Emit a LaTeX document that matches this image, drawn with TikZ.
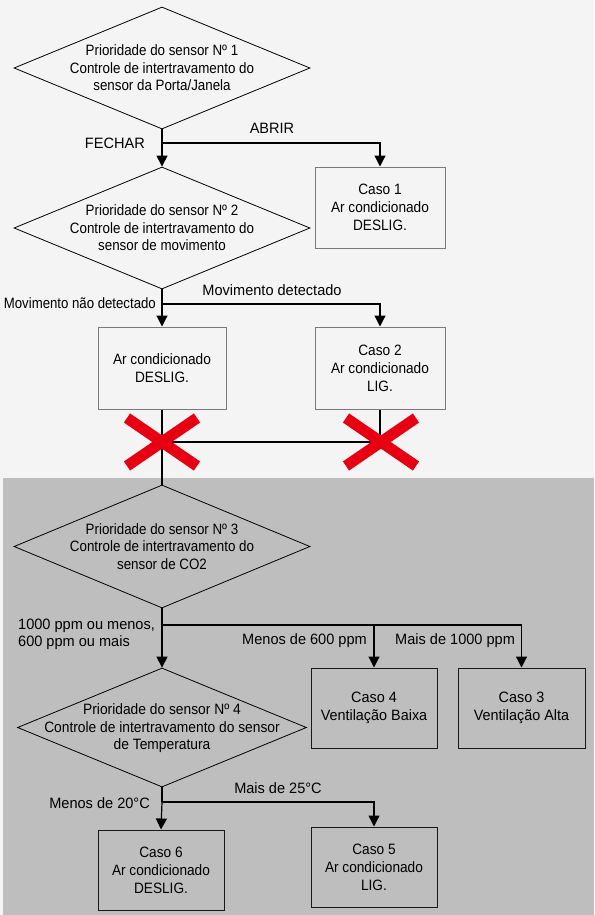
\documentclass[tikz,border=0pt]{standalone}
\usepackage{fontspec}
\setmainfont{Liberation Sans}
\newfontfamily\fntdia{Liberation Sans}[FakeStretch=0.89]
\newfontfamily\fntdiaw{Liberation Sans}[FakeStretch=0.92]
\newfontfamily\fntar{Liberation Sans}[FakeStretch=0.91]
\newfontfamily\fntven{Liberation Sans}[FakeStretch=0.96]
\newfontfamily\fntlab{Liberation Sans}[FakeStretch=0.97]
\newfontfamily\fntnar{Liberation Sans}[FakeStretch=0.88]
\usetikzlibrary{shapes.geometric,arrows.meta}
\definecolor{bgtop}{HTML}{F4F4F4}
\definecolor{bgbot}{HTML}{BEBEBE}
\definecolor{xred}{HTML}{E60012}
\definecolor{boxgray}{HTML}{7A7A7A}
\begin{document}
\begin{tikzpicture}[x=1pt,y=-1pt,
  font=\fontsize{15}{17.5}\selectfont,
  dec/.style={draw, shape=diamond, inner sep=0pt, line width=0.8pt, minimum width=296pt, minimum height=122pt},
  boxg/.style={draw=boxgray, rectangle, line width=1pt, align=center, minimum width=130pt, minimum height=81pt, inner sep=0pt, font=\fontsize{15}{18}\fntar},
  boxk/.style={draw=black!90, rectangle, line width=1pt, align=center, minimum width=126pt, minimum height=80pt, inner sep=0pt, font=\fontsize{15}{18}\fntar},
  arr/.style={-{Triangle[width=11pt,length=11pt]}, line width=1.2pt},
  ln/.style={line width=1.2pt},
  lab/.style={inner sep=0pt, font=\fontsize{15}{17.5}\fntlab},
  redx/.style={draw=xred, line width=11pt}]
\useasboundingbox (0,0) rectangle (594,915);
\fill[bgtop] (0,0) rectangle (594,915);
\fill[bgbot] (3,478) rectangle (594,915);

% decisions
\node[dec, label={[align=center,font=\fontsize{15}{17.5}\fntdia]center:Prioridade do sensor Nº 1\\Controle de intertravamento do\\sensor da Porta/Janela}] (d1) at (162,68) {};
\node[dec, label={[align=center,font=\fontsize{15}{17.5}\fntdia]center:Prioridade do sensor Nº 2\\Controle de intertravamento do\\sensor de movimento}] (d2) at (162,228) {};
\node[dec, minimum height=123pt, label={[align=center,font=\fontsize{15}{17.5}\fntdia]center:Prioridade do sensor Nº 3\\Controle de intertravamento do\\sensor de CO2}] (d3) at (162,546.5) {};
\node[dec, minimum width=289pt, minimum height=119pt, label={[align=center,yshift=-1pt,font=\fontsize{15}{17.5}\fntdiaw]center:Prioridade do sensor Nº 4\\Controle de intertravamento do sensor\\de Temperatura}] (d4) at (162,727.5) {};

% boxes
\node[boxg] (c1) at (380,207.5) {Caso 1\\Ar condicionado\\DESLIG.};
\node[boxg, minimum width=128pt, minimum height=82pt] (b2) at (162,368) {Ar condicionado\\DESLIG.};
\node[boxg, minimum height=82pt] (c2) at (380,368) {Caso 2\\Ar condicionado\\LIG.};
\node[boxk, font=\fontsize{15}{18}\fntven] (c4) at (374,708) {Caso 4\\Ventilação Baixa};
\node[boxk, minimum width=127pt, font=\fontsize{15}{18}\fntven] (c3) at (521.5,708) {Caso 3\\Ventilação Alta};
\node[boxk] (c6) at (161,870) {Caso 6\\Ar condicionado\\DESLIG.};
\node[boxk] (c5) at (374,867) {Caso 5\\Ar condicionado\\LIG.};

% junctions
\coordinate (j1) at (162,143);
\coordinate (j2) at (162,304);
\coordinate (m1) at (162,442);
\coordinate (j3) at (162,625);
\coordinate (j4) at (162,802);

% connectors
\draw[ln] (d1.south) -- (j1);
\draw[arr] (j1) -- (d2.north);
\draw[arr] (j1) -| (c1.north);
\draw[ln] (d2.south) -- (j2);
\draw[arr] (j2) -- (b2.north);
\draw[arr] (j2) -| (c2.north);
\draw[ln] (b2.south) -- (d3.north);
\draw[ln] (c2.south) |- (m1);
\draw[ln] (d3.south) -- (j3);
\draw[arr] (j3) -- (d4.north);
\draw[arr] (j3) -| (c4.north);
\draw[arr] (j3) -| (c3.north);
\draw[ln] (d4.south) -- (j4);
\draw[arr] (j4) -- (c6.north);
\draw[arr] (j4) -| (c5.north);

% labels
\node[lab] (lab1) at (272,128) {ABRIR};
\node[lab, anchor=east] (lab2) at (145,143) {FECHAR};
\node[lab] (lab3) at (272,290) {Movimento detectado};
\node[lab, anchor=east, font=\fontsize{15}{17.5}\fntnar] (lab4) at (156,303) {Movimento não detectado};
\node[lab, anchor=west, align=left] (lab5) at (18,634.5) {1000 ppm ou menos,\\600 ppm ou mais};
\node[lab, anchor=east] (lab6) at (367,641) {Menos de 600 ppm};
\node[lab, anchor=west] (lab7) at (395,641) {Mais de 1000 ppm};
\node[lab] (lab8) at (278,788) {Mais de 25°C};
\node[lab, anchor=east] (lab9) at (150,803) {Menos de 20°C};

% red crosses
\foreach \cx in {162,381} {
  \draw[redx] (\cx-35,418) -- (\cx+35,466);
  \draw[redx] (\cx-35,466) -- (\cx+35,418);
}
\end{tikzpicture}
\end{document}
